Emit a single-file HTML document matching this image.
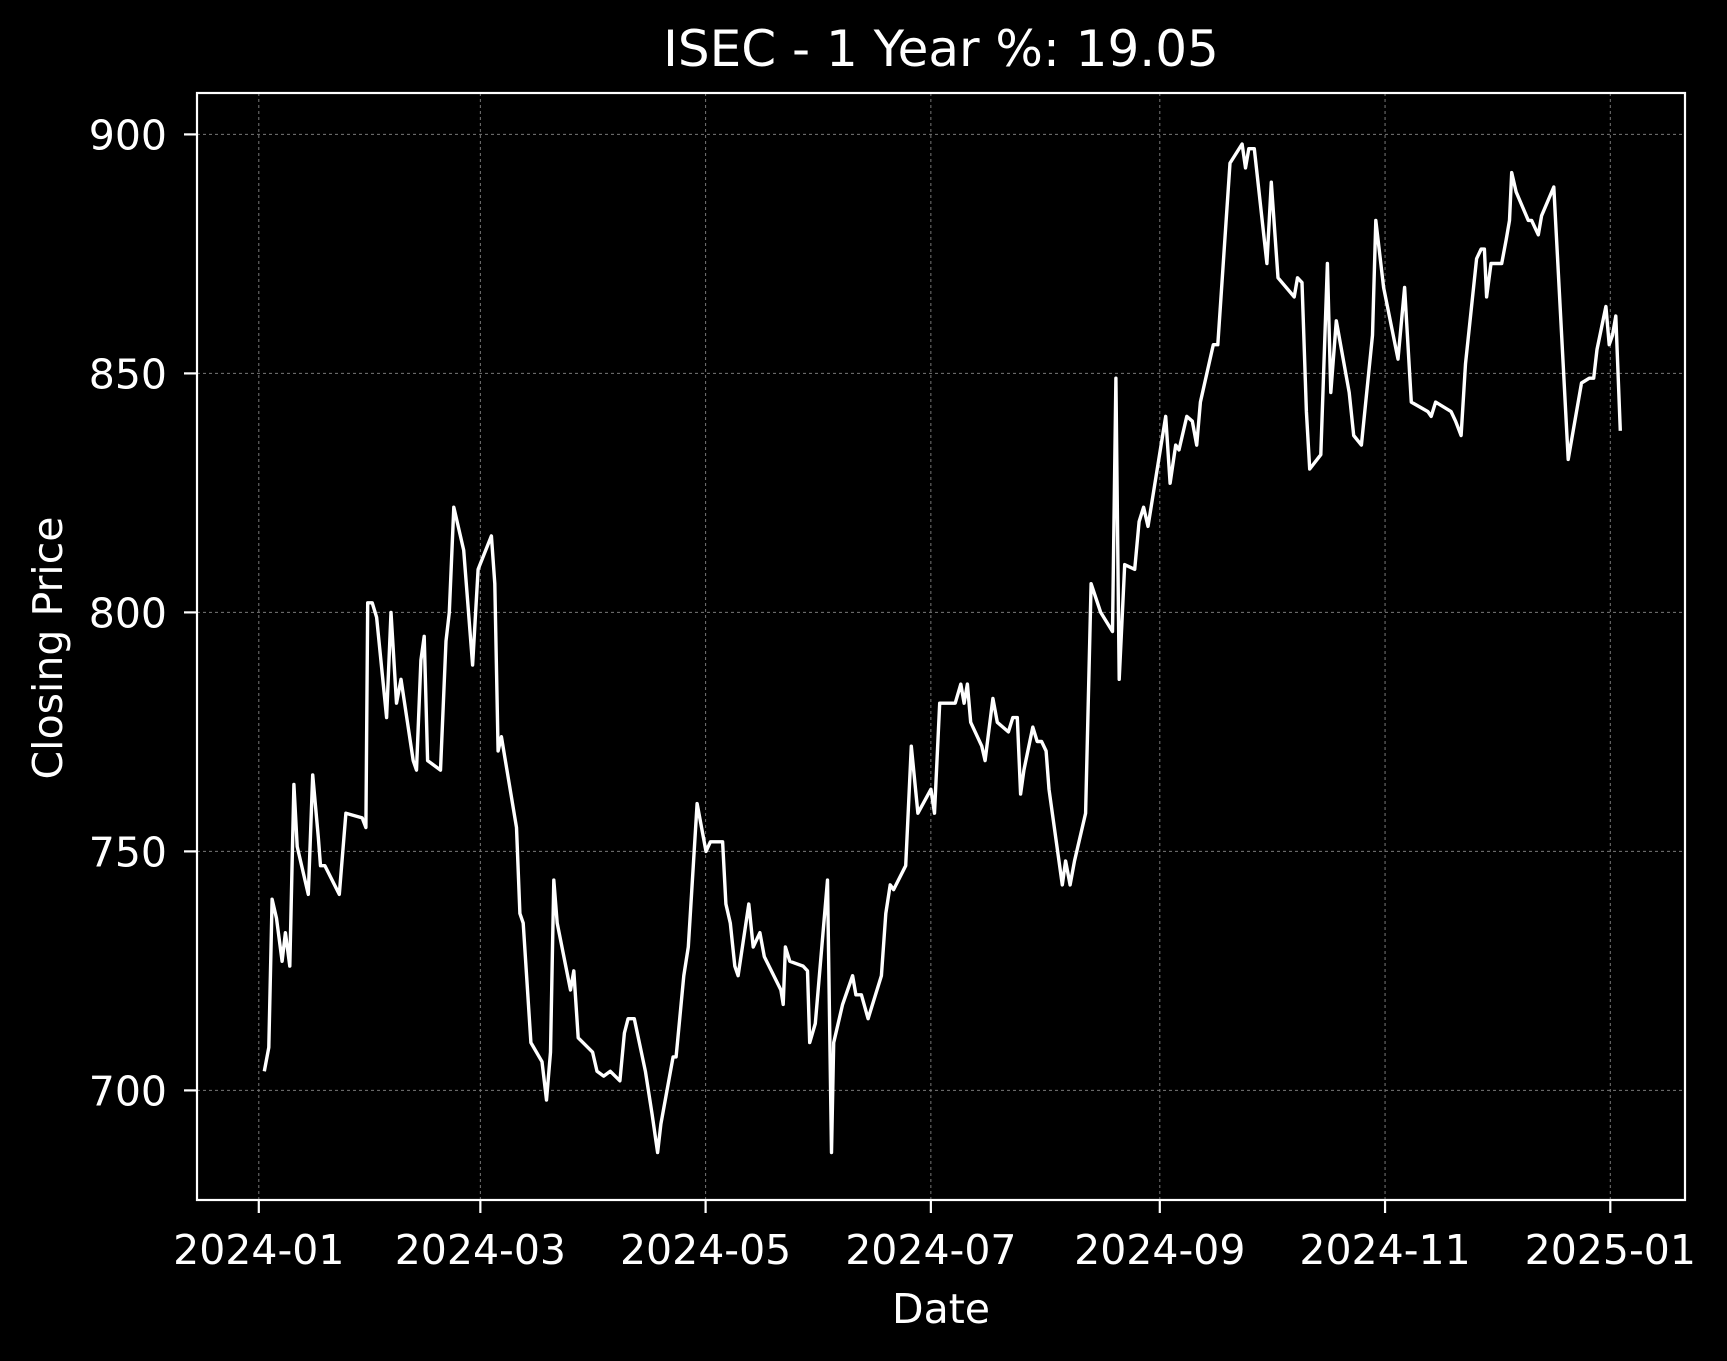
<!DOCTYPE html>
<html><head><meta charset="utf-8"><style>
html,body{margin:0;padding:0;background:#000;width:1727px;height:1361px;overflow:hidden}
svg text{font-family:"DejaVu Sans","Liberation Sans",sans-serif;fill:#fff}
</style></head><body>
<svg id="chart" width="1727" height="1361" viewBox="0 0 1727 1361" xmlns="http://www.w3.org/2000/svg">
<rect width="1727" height="1361" fill="#000"/>
<text x="941" y="66" font-size="50" text-anchor="middle">ISEC - 1 Year %: 19.05</text>
<text x="941" y="1323" font-size="41" text-anchor="middle">Date</text>
<text x="0" y="0" font-size="41" text-anchor="middle" transform="translate(62,648) rotate(-90)">Closing Price</text>
<g id="grid"></g><g id="ticks"></g>
<path id="line" fill="none" stroke="#fff" stroke-width="3.4" stroke-linejoin="round"/>
<rect x="197" y="93" width="1488" height="1107" fill="none" stroke="#fff" stroke-width="2.2"/>
</svg>
<script>
const days=[1.5,2.7,3.6,4.8,6.3,7.2,8.4,9.5,10.4,13.4,14.6,16.1,16.7,17.9,21.8,23.6,28,29,29.5,30.7,31.9,34.6,35.8,37.3,38.5,41.8,42.7,43.9,44.8,45.7,49.2,50.7,51.6,52.8,55.5,57.9,59.4,63,63.9,64.8,65.7,69.8,70.7,71.6,73.7,76.7,77.9,79,79.9,80.8,84.4,85.3,86.5,90.4,91.6,93.4,95.2,97.8,99,100,101.7,104.7,106.5,108,108.9,112.2,113,115.1,116.3,118.7,121.1,122.3,125.6,126.5,127.7,128.9,129.8,132.7,133.9,135.7,136.9,141.4,142,142.6,143.8,147.4,148.6,149.2,150.7,154,155.1,155.7,158.1,160.8,161.7,163.2,165,168.6,169.8,171,171.9,175.2,176.7,178.5,182,183,184.4,188.6,190.1,191,191.9,192.8,195.8,196.7,198.8,200,203,204.2,205.4,206.3,207.2,209.6,210.8,212,213.2,214,217.6,218.5,219.7,220.9,223.9,225.4,228,231.2,232.1,233,234.5,237.2,238.4,239.6,240.8,245.6,246.8,248.3,249.2,251.3,252.8,254,255,258.5,259.7,263,266.3,267.2,268.1,269.6,273,274.2,276,280.4,281.3,282.5,283.7,284.6,287.6,289.4,290.3,291.8,295.3,296.5,298.6,301.6,302.5,304.6,308.5,310.3,312.1,316.6,317.5,318.7,322.9,324.1,325.6,326.8,329.8,331,331.9,332.5,333.7,336.6,337.8,338.7,339.3,340.5,343.8,344.7,346.5,347.4,350.7,354.6,358.2,360.3,361.5,362.4,364.8,365.7,366.6,367.5,368.7];
const prices=[704,709,740,736,727,733,726,764,751,741,766,753,747,747,741,758,757,755,802,802,799,778,800,781,786,769,767,790,795,769,767,794,800,822,813,789,809,816,806,771,774,755,737,735,710,706,698,708,744,735,721,725,711,708,704,703,704,702,712,715,715,704,695,687,693,707,707,724,730,760,750,752,752,739,735,726,724,739,730,733,728,721,718,730,727,726,725,710,714,744,687,710,718,724,720,720,715,724,737,743,742,747,772,758,763,758,781,781,785,781,785,777,772,769,782,777,775,778,778,762,767,776,773,773,771,763,743,748,743,748,758,806,800,796,849,786,810,809,819,822,818,841,827,835,834,841,840,835,844,856,856,894,898,893,897,897,873,890,870,866,870,869,842,830,833,873,846,861,846,837,835,858,882,868,853,868,844,842,841,844,842,840,837,852,874,876,876,866,873,873,878,882,892,888,882,882,879,883,889,832,848,849,849,855,864,856,858,862,838];
const yTicks=[700,750,800,850,900];
const xTickDays=[0,60,121,182,244,305,366];
const xTickLabels=["2024-01","2024-03","2024-05","2024-07","2024-09","2024-11","2025-01"];
const L=197,R=1685,T=93,B=1200;
const x=d=>258.8+d*(1610.3-258.8)/366;
const y=v=>1090.4-(v-700)*(1090.4-134.4)/200;
const ns="http://www.w3.org/2000/svg";
const grid=document.getElementById('grid'),ticks=document.getElementById('ticks');
function mk(tag,attrs,parent){const e=document.createElementNS(ns,tag);for(const k in attrs)e.setAttribute(k,attrs[k]);parent.appendChild(e);return e;}
yTicks.forEach(v=>{
  const g=mk('line',{x1:L,x2:R,y1:y(v),y2:y(v),stroke:'#777','stroke-width':1,'stroke-dasharray':'3,3'},grid);
  
  
  const t=mk('line',{x1:L-13,x2:L,y1:y(v),y2:y(v),stroke:'#fff','stroke-width':2.2},ticks);
  
  
  const tx=mk('text',{x:L-30,y:y(v)+15,'font-size':41,'text-anchor':'end'},ticks);
  tx.textContent=v;
  
  
});
xTickDays.forEach((d,i)=>{
  const g=mk('line',{x1:x(d),x2:x(d),y1:T,y2:B,stroke:'#777','stroke-width':1,'stroke-dasharray':'3,3'},grid);
  
  
  const t=mk('line',{x1:x(d),x2:x(d),y1:B,y2:B+13,stroke:'#fff','stroke-width':2.2},ticks);
  
  
  const tx=mk('text',{x:x(d),y:1264,'font-size':41,'text-anchor':'middle'},ticks);
  tx.textContent=xTickLabels[i];
  
  
});
document.getElementById('line').setAttribute('d',days.map((d,i)=>(i?'L':'M')+x(d).toFixed(1)+','+y(prices[i]).toFixed(1)).join(''));
</script>
</body></html>
